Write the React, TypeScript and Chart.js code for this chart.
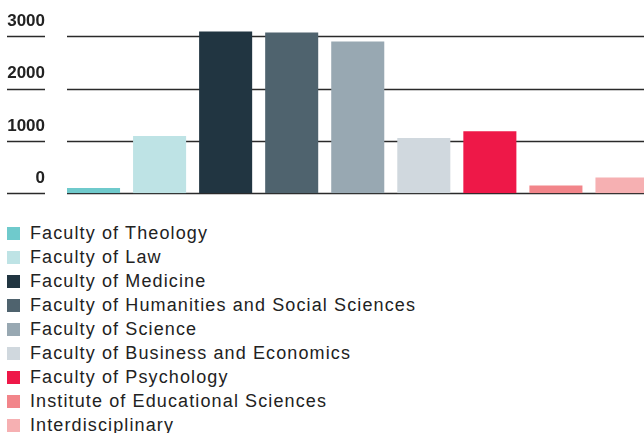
import React, { useEffect, useRef } from "react";
import { Chart, registerables } from "chart.js";

Chart.register(...registerables);

const categories = [
  "Faculty of Theology",
  "Faculty of Law",
  "Faculty of Medicine",
  "Faculty of Humanities and Social Sciences",
  "Faculty of Science",
  "Faculty of Business and Economics",
  "Faculty of Psychology",
  "Institute of Educational Sciences",
  "Interdisciplinary",
];
const values = [100, 1092, 3088, 3070, 2900, 1055, 1186, 150, 300];
const colors = [
  "#6fcacc",
  "#bee3e5",
  "#213541",
  "#4f636e",
  "#98a8b2",
  "#d0d8de",
  "#ee1848",
  "#f2858a",
  "#f6b0b2",
];
const yTicks = [0, 1000, 2000, 3000];

const FONT = "'Liberation Sans', Arial, sans-serif";

const linePlugin = {
  id: "customLines",
  beforeDatasetsDraw(chart: any) {
    const ctx = chart.ctx;
    const y = chart.scales.y;
    const meta = chart.getDatasetMeta(0);
    const first = meta.data[0] as any;
    const left = first.x - first.width / 2;
    const right = chart.width;
    ctx.save();
    ctx.strokeStyle = "#2a2a2a";
    ctx.lineWidth = 1.4;
    yTicks.forEach((v) => {
      const py = Math.round(y.getPixelForValue(v)) + 0.5;
      ctx.beginPath();
      ctx.moveTo(7, py);
      ctx.lineTo(45, py);
      ctx.moveTo(left, py);
      ctx.lineTo(right, py);
      ctx.stroke();
    });
    ctx.restore();
  },
};

export default function App() {
  const ref = useRef<HTMLCanvasElement>(null);
  useEffect(() => {
    document.body.style.margin = "0";
    const chart = new Chart(ref.current!, {
      type: "bar",
      data: {
        labels: categories,
        datasets: [
          {
            data: values,
            backgroundColor: colors,
            borderWidth: 0,
            categoryPercentage: 1,
            barPercentage: 53 / 66,
          },
        ],
      },
      options: {
        animation: false,
        responsive: true,
        maintainAspectRatio: false,
        layout: { padding: { top: 21, bottom: 6, left: 0, right: 0 } },
        plugins: { legend: { display: false }, tooltip: { enabled: false } },
        scales: {
          x: { display: false },
          y: {
            min: 0,
            max: 3200,
            afterFit: (s: any) => {
              s.width = 60.5;
            },
            afterBuildTicks: (s: any) => {
              s.ticks = yTicks.map((v) => ({ value: v }));
            },
            border: { display: false },
            grid: { display: false, drawTicks: false },
            ticks: {
              padding: 15.5,
              labelOffset: -15,
              color: "#222",
              callback: (v: any) => String(v),
              font: { family: FONT, size: 17, weight: "bold" },
            },
          },
        },
      },
      plugins: [linePlugin],
    });
    return () => chart.destroy();
  }, []);

  return (
    <div style={{ width: 644, overflow: "hidden", fontFamily: FONT }}>
      <div style={{ position: "relative", width: 655, height: 219 }}>
        <canvas ref={ref} />
      </div>
      <div style={{ marginTop: 2, marginLeft: 7 }}>
        {categories.map((c, i) => (
          <div
            key={c}
            style={{ display: "flex", alignItems: "center", height: 24 }}
          >
            <span
              style={{
                display: "inline-block",
                width: 13,
                height: 13,
                background: colors[i],
                marginRight: 10,
              }}
            />
            <span
              style={{
                fontSize: 18,
                letterSpacing: 1.12,
                color: "#222",
                whiteSpace: "nowrap",
              }}
            >
              {c}
            </span>
          </div>
        ))}
      </div>
    </div>
  );
}
